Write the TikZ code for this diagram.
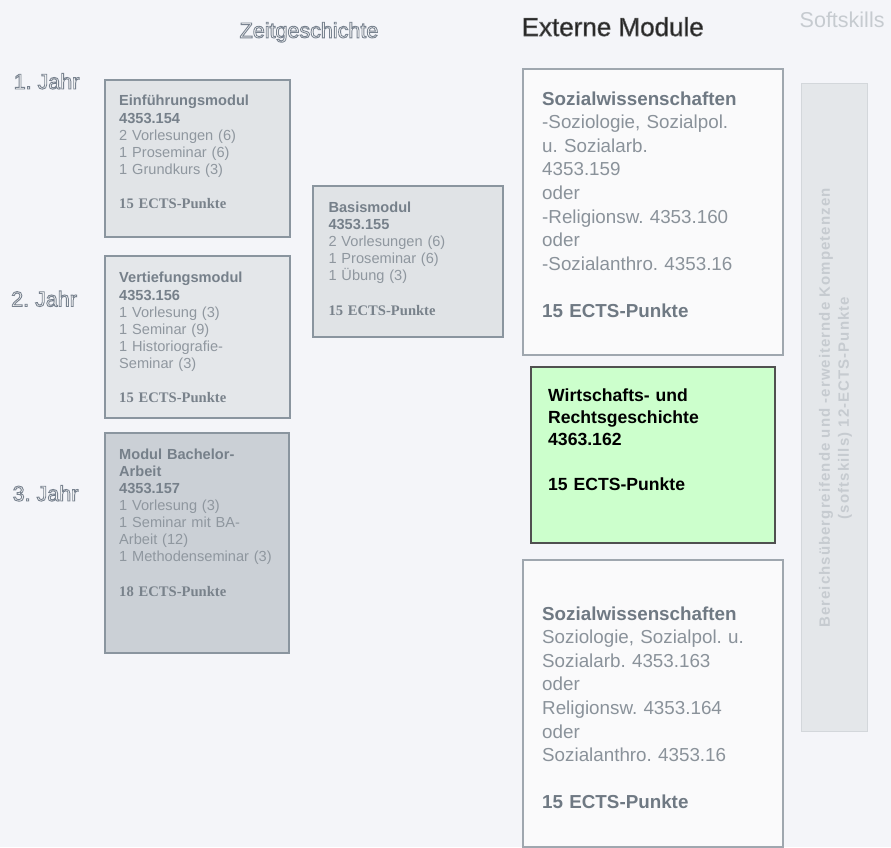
\documentclass[tikz,border=0pt]{standalone}
\usepackage{fontspec}
\setmainfont{Liberation Sans}
\newfontfamily\ectsfont{Liberation Serif}
\newfontfamily\softfont[LetterSpace=7]{Liberation Sans}
\usepackage{xcolor}
\usetikzlibrary{positioning}

\definecolor{bgcol}{HTML}{F4F5F9}
\definecolor{einffill}{HTML}{E1E4E7}
\definecolor{basisfill}{HTML}{E0E3E6}
\definecolor{vertfill}{HTML}{E4E7EA}
\definecolor{bafill}{HTML}{CBD0D6}
\definecolor{boxline}{HTML}{8A959F}
\definecolor{modtitle}{HTML}{76808A}
\definecolor{modplain}{HTML}{8F979F}
\definecolor{ectscol}{HTML}{79828B}
\definecolor{extfill}{HTML}{FAFAFB}
\definecolor{extline}{HTML}{9FA7AF}
\definecolor{exttitle}{HTML}{6F7983}
\definecolor{extplain}{HTML}{8A929A}
\definecolor{wrgreen}{HTML}{CCFFCC}
\definecolor{wrline}{HTML}{505050}
\definecolor{softfill}{HTML}{E4E7EA}
\definecolor{softline}{HTML}{D3D7DB}
\definecolor{softtext}{HTML}{C6CBD0}
\definecolor{extdark}{HTML}{222222}

\tikzset{
  modbox/.style={draw=boxline, line width=2pt, anchor=north west, inner sep=0pt},
  extbox/.style={draw=extline, line width=2.4pt, fill=extfill, anchor=north west, inner sep=0pt},
  modtext/.style={anchor=base west, inner sep=0pt, align=left, text width=200pt,
    font=\fontsize{14.6}{17.1}\selectfont, text=modplain},
  exttext/.style={anchor=base west, inner sep=0pt, align=left, text width=240pt,
    font=\fontsize{18.8}{23.6}\selectfont, text=extplain},
  wrtext/.style={anchor=base west, inner sep=0pt, align=left, text width=220pt,
    font=\bfseries\fontsize{17.6}{22.3}\selectfont, text=black},
  hohltext/.style={anchor=base west, inner sep=0pt, font=\fontsize{21.5}{24}\selectfont}
}

\newcommand{\mtitle}[1]{{\bfseries\color{modtitle}#1}}
\newcommand{\etitle}[1]{{\bfseries\color{exttitle}#1}}
\newcommand{\ects}[1]{{\ectsfont\bfseries\color{ectscol}#1 ECTS-Punkte}}
% weisse Schrift mit grauem Rand
\newcommand{\hohl}[1]{{\color{white}\special{pdf:literal direct 0.47 0.51 0.56 RG 2 Tr 0.9 w}#1\special{pdf:literal direct 0 Tr}}}
\newcommand{\fett}[1]{{\special{pdf:literal direct 0.4 0.4 0.4 RG 2 Tr 0.6 w}#1\special{pdf:literal direct 0 Tr}}}

\begin{document}
\frenchspacing
\begin{tikzpicture}[x=1pt,y=-1pt]

\fill[bgcol] (0,0) rectangle (891,847);
\useasboundingbox (0,0) rectangle (891,847);

% Ueberschriften
\node[hohltext] (zeit) at (239.5,37.8) {\hohl{Zeitgeschichte}};
\node[anchor=base west, inner sep=0pt, font=\fontsize{26}{30}\selectfont, text=extdark] (extern) at (521.5,36) {\fett{Externe Module}};
\node[anchor=base west, inner sep=0pt, font=\fontsize{21.5}{24}\selectfont, text=softtext] (softkopf) at (799.5,27.5) {Softskills};

% Jahre
\node[hohltext] (jahr1) at (13.5,89) {\hohl{1. Jahr}};
\node[hohltext] (jahr2) at (11,306.5) {\hohl{2. Jahr}};
\node[hohltext] (jahr3) at (12.5,501) {\hohl{3. Jahr}};

% Zeitgeschichte
\node[modbox, fill=einffill, minimum width=185pt, minimum height=157pt] (einf) at (104,79) {};
\node[modtext] (einftxt) at (119,105.9) {\mtitle{Einführungsmodul}\\ \mtitle{4353.154}\\ 2 Vorlesungen (6)\\ 1 Proseminar (6)\\ 1 Grundkurs (3)\\[17.1pt] \ects{15}};

\node[modbox, fill=basisfill, minimum width=190pt, minimum height=151pt] (basis) at (312,185) {};
\node[modtext] (basistxt) at (328.3,212.5) {\mtitle{Basismodul}\\ \mtitle{4353.155}\\ 2 Vorlesungen (6)\\ 1 Proseminar (6)\\ 1 Übung (3)\\[17.1pt] \ects{15}};

\node[modbox, fill=vertfill, minimum width=185pt, minimum height=162pt] (vert) at (104,255) {};
\node[modtext] (verttxt) at (119,282.9) {\mtitle{Vertiefungsmodul}\\ \mtitle{4353.156}\\ 1 Vorlesung (3)\\ 1 Seminar (9)\\ 1 Historiografie-\\ Seminar (3)\\[17.1pt] \ects{15}};

\node[modbox, fill=bafill, minimum width=184pt, minimum height=220pt] (ba) at (104,432) {};
\node[modtext] (batxt) at (119,459.2) {\mtitle{Modul Bachelor-}\\ \mtitle{Arbeit}\\ \mtitle{4353.157}\\ 1 Vorlesung (3)\\ 1 Seminar mit BA-\\ Arbeit (12)\\ 1 Methodenseminar (3)\\[17.1pt] \ects{18}};

% Externe Module
\node[extbox, minimum width=260pt, minimum height=286pt] (sozA) at (522,68) {};
\node[exttext] (sozAtxt) at (542,105) {\etitle{Sozialwissenschaften}\\ -Soziologie, Sozialpol.\\ u. Sozialarb.\\ 4353.159\\ oder\\ -Religionsw. 4353.160\\ oder\\ -Sozialanthro. 4353.16\\[23.6pt] \etitle{15 ECTS-Punkte}};

\node[draw=wrline, line width=2pt, fill=wrgreen, anchor=north west, inner sep=0pt,
  minimum width=244pt, minimum height=176pt] (wr) at (530,366) {};
\node[wrtext] (wrtxt) at (548,401.3) {Wirtschafts- und\\ Rechtsgeschichte\\ 4363.162\\[22.3pt] 15 ECTS-Punkte};

\node[extbox, minimum width=260pt, minimum height=287pt] (sozC) at (522,559) {};
\node[exttext] (sozCtxt) at (542,620) {\etitle{Sozialwissenschaften}\\ Soziologie, Sozialpol. u.\\ Sozialarb. 4353.163\\ oder\\ Religionsw. 4353.164\\ oder\\ Sozialanthro. 4353.16\\[23.6pt] \etitle{15 ECTS-Punkte}};

% Softskills
\node[draw=softline, line width=1pt, fill=softfill, anchor=north west, inner sep=0pt,
  minimum width=66pt, minimum height=648pt] (softbar) at (801,83) {};
\node[rotate=90, align=center, inner sep=0pt, text=softtext,
  font=\softfont\bfseries\fontsize{15}{19}\selectfont] (softtxt) at (835.5,408)
  {Bereichsübergreifende und -erweiternde Kompetenzen\\ (softskills) 12-ECTS-Punkte};

\end{tikzpicture}
\end{document}
